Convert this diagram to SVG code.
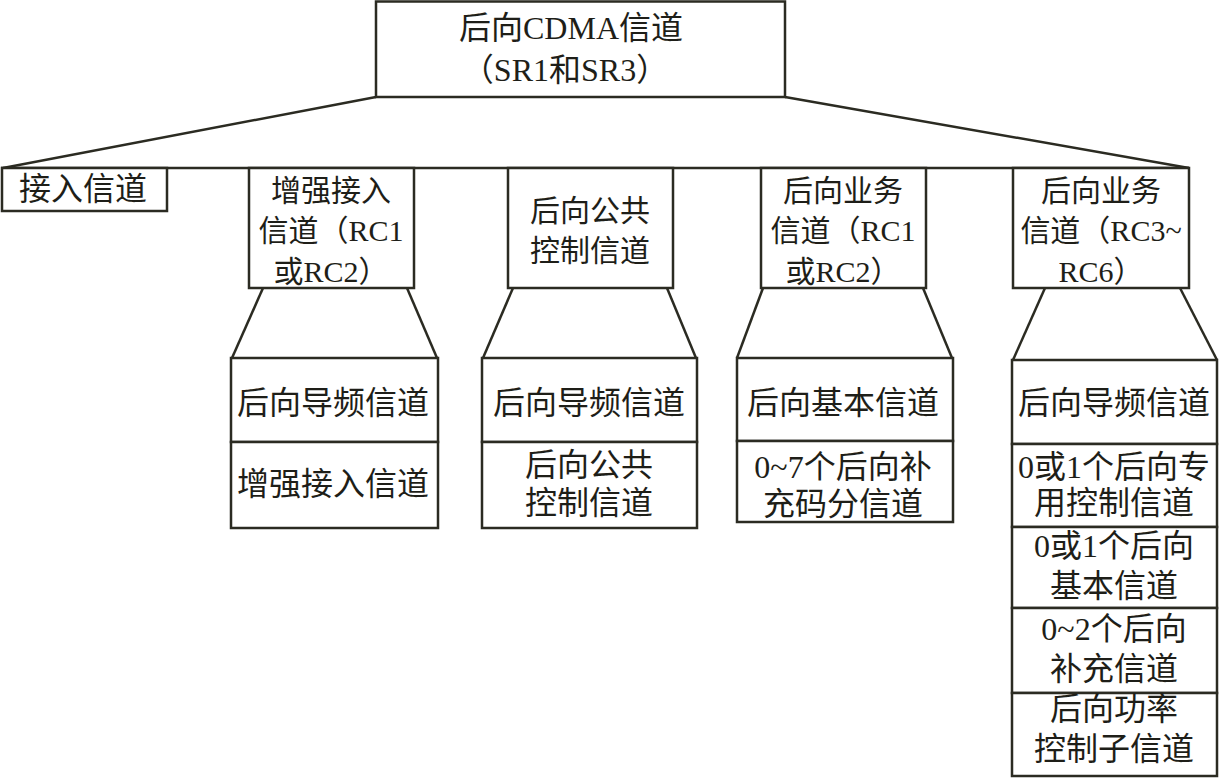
<svg xmlns="http://www.w3.org/2000/svg" width="1219" height="778" viewBox="0 0 1219 778">
<style>
.b{fill:#fff;stroke:#2b2b22;stroke-width:2.5}
.c{fill:none;stroke:#2b2b22;stroke-width:2.5}
text{font-family:"Liberation Serif","Noto Sans CJK SC",serif;fill:#1e1e18;text-anchor:middle;dominant-baseline:central}
.t{font-size:32px}
.s{font-size:30px}
</style>
<rect width="1219" height="778" fill="#fff"/>
<g id="connectors">
<line class="c" x1="376" y1="97" x2="3" y2="168"/>
<line class="c" x1="785" y1="97" x2="1189" y2="168"/>
<line class="c" x1="1" y1="168" x2="1189" y2="168"/>
<polyline class="c" points="232,358 263,288"/>
<polyline class="c" points="437,358 407,288"/>
<polyline class="c" points="483,358 513,288"/>
<polyline class="c" points="696,358 667,288"/>
<polyline class="c" points="737,358 763,288"/>
<polyline class="c" points="952,358 923,288"/>
<polyline class="c" points="1013,360 1045,288"/>
<polyline class="c" points="1217,360 1180,288"/>
</g>
<g id="root">
<rect class="b" x="376" y="1.5" width="409" height="95.5"/>
<text class="t" x="571" y="28">后向CDMA信道</text>
<text class="t" x="565" y="70" font-size="33">（SR1和SR3）</text>
</g>
<g id="access">
<rect class="b" x="2" y="168" width="165" height="43"/>
<text class="t" x="83" y="189">接入信道</text>
</g>
<g id="eac">
<rect class="b" x="249" y="168" width="165" height="120"/>
<text class="s" x="331" y="190">增强接入</text>
<text class="s" x="331" y="230">信道（RC1</text>
<text class="s" x="331" y="271">或RC2）</text>
</g>
<g id="rccc">
<rect class="b" x="508" y="168" width="165" height="120"/>
<text class="s" x="590" y="210">后向公共</text>
<text class="s" x="590" y="250">控制信道</text>
</g>
<g id="rtc12">
<rect class="b" x="761" y="168" width="165" height="120"/>
<text class="s" x="843" y="190">后向业务</text>
<text class="s" x="843" y="230">信道（RC1</text>
<text class="s" x="843" y="271">或RC2）</text>
</g>
<g id="rtc36">
<rect class="b" x="1013" y="168" width="176" height="120"/>
<text class="s" x="1101" y="190">后向业务</text>
<text class="s" x="1101" y="230">信道（RC3~</text>
<text class="s" x="1101" y="271">RC6）</text>
</g>
<g id="eac-pilot">
<rect class="b" x="231" y="358" width="207" height="84"/>
<text class="t" x="333" y="403">后向导频信道</text>
</g>
<g id="eac-eac">
<rect class="b" x="231" y="442" width="207" height="86"/>
<text class="t" x="333" y="484">增强接入信道</text>
</g>
<g id="rccc-pilot">
<rect class="b" x="482" y="358" width="215" height="84"/>
<text class="t" x="589" y="403">后向导频信道</text>
</g>
<g id="rccc-rccc">
<rect class="b" x="482" y="442" width="215" height="86"/>
<text class="t" x="589" y="465">后向公共</text>
<text class="t" x="589" y="503">控制信道</text>
</g>
<g id="rtc12-fch">
<rect class="b" x="737" y="358" width="216" height="83"/>
<text class="t" x="843" y="403">后向基本信道</text>
</g>
<g id="rtc12-scch">
<rect class="b" x="737" y="441" width="216" height="81"/>
<text class="t" x="843" y="467">0~7个后向补</text>
<text class="t" x="843" y="504">充码分信道</text>
</g>
<g id="rtc36-pilot">
<rect class="b" x="1012" y="360" width="205" height="84"/>
<text class="t" x="1114" y="403">后向导频信道</text>
</g>
<g id="rtc36-dcch">
<rect class="b" x="1012" y="444" width="205" height="83"/>
<text class="t" x="1114" y="467">0或1个后向专</text>
<text class="t" x="1114" y="503">用控制信道</text>
</g>
<g id="rtc36-fch">
<rect class="b" x="1012" y="527" width="205" height="81"/>
<text class="t" x="1114" y="546">0或1个后向</text>
<text class="t" x="1114" y="586">基本信道</text>
</g>
<g id="rtc36-sch">
<rect class="b" x="1012" y="608" width="205" height="85"/>
<text class="t" x="1114" y="629">0~2个后向</text>
<text class="t" x="1114" y="669">补充信道</text>
</g>
<g id="rtc36-pcsc">
<rect class="b" x="1012" y="693" width="205" height="83"/>
<text class="t" x="1114" y="709">后向功率</text>
<text class="t" x="1114" y="749">控制子信道</text>
</g>
</svg>
